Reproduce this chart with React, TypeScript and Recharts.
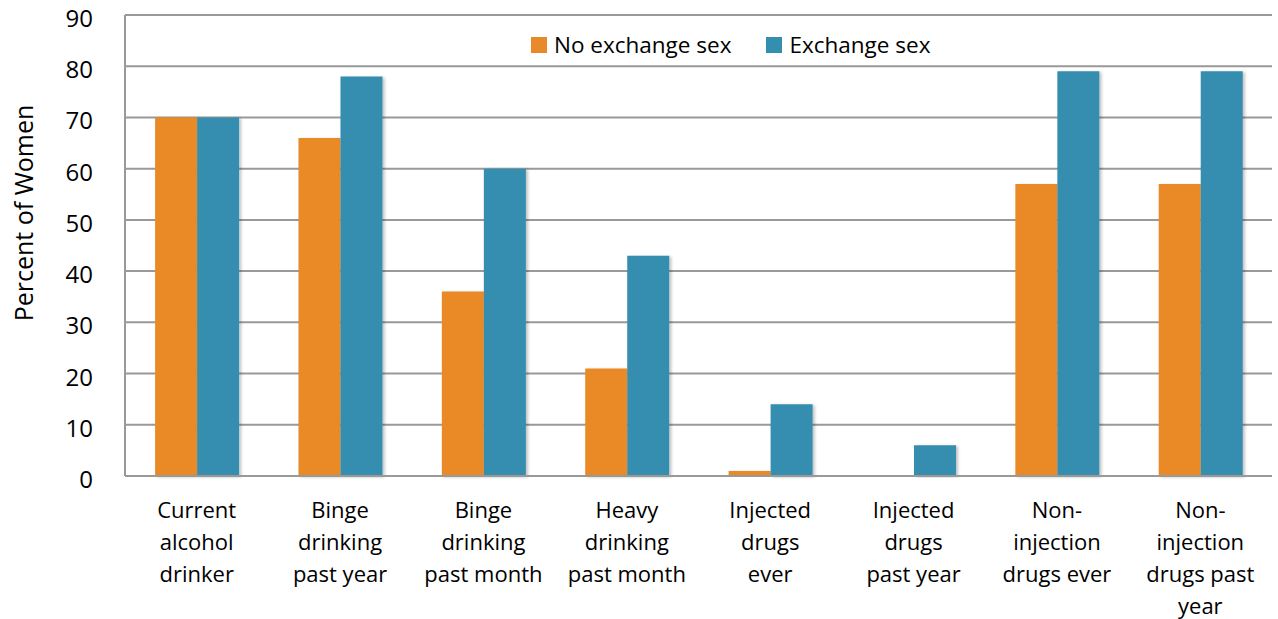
import React from "react";
import { BarChart, Bar, XAxis, YAxis, CartesianGrid, Legend } from "recharts";

// Substance use among women, by exchange-sex status (percent)
const categories = [
  "Current\nalcohol\ndrinker",
  "Binge\ndrinking\npast year",
  "Binge\ndrinking\npast month",
  "Heavy\ndrinking\npast month",
  "Injected\ndrugs\never",
  "Injected\ndrugs\npast year",
  "Non-\ninjection\ndrugs ever",
  "Non-\ninjection\ndrugs past\nyear",
];
const noExchangeSex = [70, 66, 36, 21, 1, 0, 57, 57];
const exchangeSex = [70, 78, 60, 43, 14, 6, 79, 79];
const yTicks = [0, 10, 20, 30, 40, 50, 60, 70, 80, 90];
const seriesNames = ["No exchange sex", "Exchange sex"];

const ORANGE = "#E98A28";
const BLUE = "#348EAF";
const GRID = "#999999";
const FONT = "'Open Sans', sans-serif";

const data = categories.map((name, i) => ({
  name,
  noExchange: noExchangeSex[i],
  exchange: exchangeSex[i],
}));

const XTick = (props: any) => {
  const { x, y, payload } = props;
  const lines = String(payload.value).split("\n");
  return (
    <text
      x={x}
      y={y}
      textAnchor="middle"
      fill="#000"
      fontSize={22}
      fontFamily={FONT}
    >
      {lines.map((ln, i) => (
        <tspan key={i} x={x} dy={i === 0 ? 34 : 32}>
          {ln}
        </tspan>
      ))}
    </text>
  );
};

const YTick = (props: any) => {
  const { x, y, payload } = props;
  return (
    <text
      x={x}
      y={y}
      dy={12}
      textAnchor="end"
      fill="#000"
      fontSize={24}
      fontFamily={FONT}
    >
      {payload.value}
    </text>
  );
};

const YTitle = () => (
  <text
    x={23}
    y={213}
    transform="rotate(-90 23 213)"
    textAnchor="middle"
    dominantBaseline="central"
    fontSize={25}
    fontFamily={FONT}
    fill="#000"
  >
    Percent of Women
  </text>
);

const LegendContent = (props: any) => {
  const payload = [...(props.payload || [])].sort(
    (a: any, b: any) => seriesNames.indexOf(a.value) - seriesNames.indexOf(b.value)
  );
  return (
    <div style={{ display: "flex", alignItems: "center", fontFamily: FONT, fontSize: 22.5, whiteSpace: "nowrap" }}>
      {payload.map((p: any, i: number) => (
        <div
          key={i}
          style={{ display: "flex", alignItems: "center", marginRight: i === 0 ? 35 : 0 }}
        >
          <span
            style={{
              display: "inline-block",
              width: 16,
              height: 16,
              background: p.color,
              marginRight: 7,
            }}
          />
          <span style={{ color: "#000" }}>{p.value}</span>
        </div>
      ))}
    </div>
  );
};

export default function App() {
  return (
    <div style={{ position: "absolute", left: 0, top: 0, background: "#fff" }}>
      <BarChart
        width={1278}
        height={619}
        data={data}
        margin={{ top: 15, right: 6, left: 0, bottom: 0 }}
        barCategoryGap="21%"
        barGap={0}
      >
        <defs>
          <filter id="barShadow" x="-20%" y="-5%" width="140%" height="110%">
            <feDropShadow dx="2" dy="1" stdDeviation="1.5" floodColor="#000" floodOpacity="0.25" />
          </filter>
        </defs>
        <CartesianGrid vertical={false} stroke={GRID} strokeWidth={2} />
        <XAxis
          dataKey="name"
          interval={0}
          height={143}
          tickLine={false}
          axisLine={{ stroke: GRID, strokeWidth: 2 }}
          tick={<XTick />}
        />
        <YAxis
          width={125}
          domain={[0, 90]}
          ticks={yTicks}
          tickLine={false}
          tickSize={6}
          tickMargin={26}
          axisLine={{ stroke: GRID, strokeWidth: 2 }}
          tick={<YTick />}
          label={<YTitle />}
        />
        <Legend
          verticalAlign="middle"
          align="center"
          content={<LegendContent />}
          wrapperStyle={{ position: "absolute", left: 531, top: 29, width: "auto" }}
        />
        <Bar
          dataKey="noExchange"
          name={seriesNames[0]}
          fill={ORANGE}
          filter="url(#barShadow)"
          isAnimationActive={false}
        />
        <Bar
          dataKey="exchange"
          name={seriesNames[1]}
          fill={BLUE}
          filter="url(#barShadow)"
          isAnimationActive={false}
        />
      </BarChart>
    </div>
  );
}
